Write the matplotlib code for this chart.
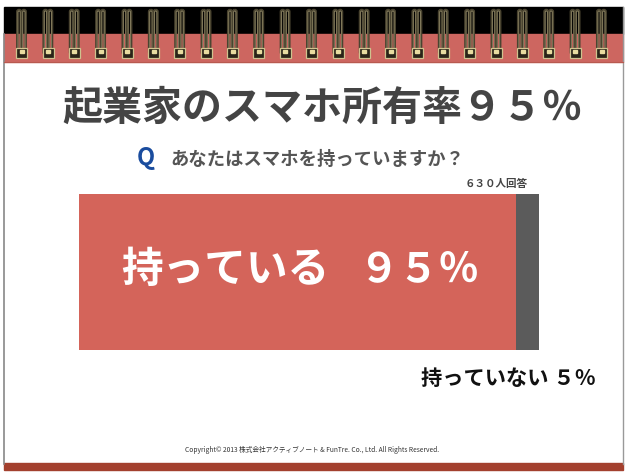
import matplotlib
matplotlib.use("Agg")
import matplotlib.pyplot as plt
from matplotlib.patches import Rectangle, FancyBboxPatch

plt.rcParams['font.family'] = ['Noto Sans CJK JP', 'DejaVu Sans']

# ---- data ----
categories = ["持っている", "持っていない"]
shares = [95, 5]
share_labels = ["９５％", "５％"]
bar_colors = ["#d4645a", "#5b5b5b"]
title = "起業家のスマホ所有率９５％"
question = "あなたはスマホを持っていますか？"
respondents = "６３０人回答"
footer = "Copyright© 2013 株式会社アクティブノート & FunTre. Co., Ltd. All Rights Reserved."

W, H = 630, 476
fig = plt.figure(figsize=(W / 100, H / 100), dpi=100)
fig.patch.set_facecolor("white")

# background canvas in pixel coordinates
bg = fig.add_axes([0, 0, 1, 1])
bg.set_xlim(0, W)
bg.set_ylim(H, 0)
bg.axis("off")

# slide frame
bg.plot([4, 4], [34, 464], color="#888888", lw=1.2)
bg.plot([623, 623], [7, 464], color="#999999", lw=1.0)
# top binding bands
bg.add_patch(Rectangle((4, 7), 619, 27, color="#000000"))
bg.add_patch(Rectangle((4, 34), 619, 28, color="#cd6660"))
bg.plot([4, 623], [62, 62], color="#b85a50", lw=0.8)
# bottom band
bg.add_patch(Rectangle((4, 463), 619, 7, color="#a3402e"))

# spiral rings
n_rings = 23
for i in range(n_rings):
    cx = 21.7 + i * 26.36
    for dx in (-2.6, 2.2):
        bg.add_patch(FancyBboxPatch((cx + dx - 1.8, 10), 3.6, 44,
                                    boxstyle="round,pad=0,rounding_size=1.8",
                                    facecolor="none", edgecolor="#4a4430", lw=1.8))
        bg.add_patch(FancyBboxPatch((cx + dx - 1.2, 11), 2.4, 42,
                                    boxstyle="round,pad=0,rounding_size=1.2",
                                    facecolor="none", edgecolor="#8a8262", lw=0.6))
    bg.add_patch(Rectangle((cx - 5.5, 48), 11, 10, facecolor="#2a2418",
                           edgecolor="#cfc28e", lw=0.9))
    bg.add_patch(Rectangle((cx - 2, 50), 4, 3, color="#e8dca0"))

# title & question
bg.text(322, 108, title, fontsize=28.8, fontweight="bold", color="#444444",
        ha="center", va="center")
bg.text(146, 158, "Q", fontsize=17, fontweight="bold", color="#1a4c9e",
        ha="center", va="center")
bg.text(170, 159, question, fontsize=13.2, fontweight="bold", color="#555555",
        ha="left", va="center")
bg.text(528, 184, respondents, fontsize=7.6, fontweight="bold", color="#444444",
        ha="right", va="center")

# stacked bar
ax = fig.add_axes([79 / W, (H - 350) / H, 460 / W, 156 / H])
left = 0
for v, c in zip(shares, bar_colors):
    ax.barh([0], [v], left=left, height=1.0, color=c, edgecolor="none")
    left += v
ax.set_xlim(0, sum(shares))
ax.set_ylim(-0.5, 0.5)
ax.axis("off")

ax.text(121, 270, categories[0], fontsize=30, fontweight="bold", color="white",
        ha="left", va="center", transform=bg.transData, clip_on=False)
ax.text(479, 270, share_labels[0], fontsize=29, fontweight="bold", color="white",
        ha="right", va="center", transform=bg.transData, clip_on=False)

bg.text(508, 378, categories[1] + " " + share_labels[1], fontsize=15.3,
        fontweight="bold", color="#111111", ha="center", va="center")

bg.text(312, 450, footer, fontsize=4.8, color="#333333", ha="center", va="center")

fig.savefig("out.png", dpi=100)
